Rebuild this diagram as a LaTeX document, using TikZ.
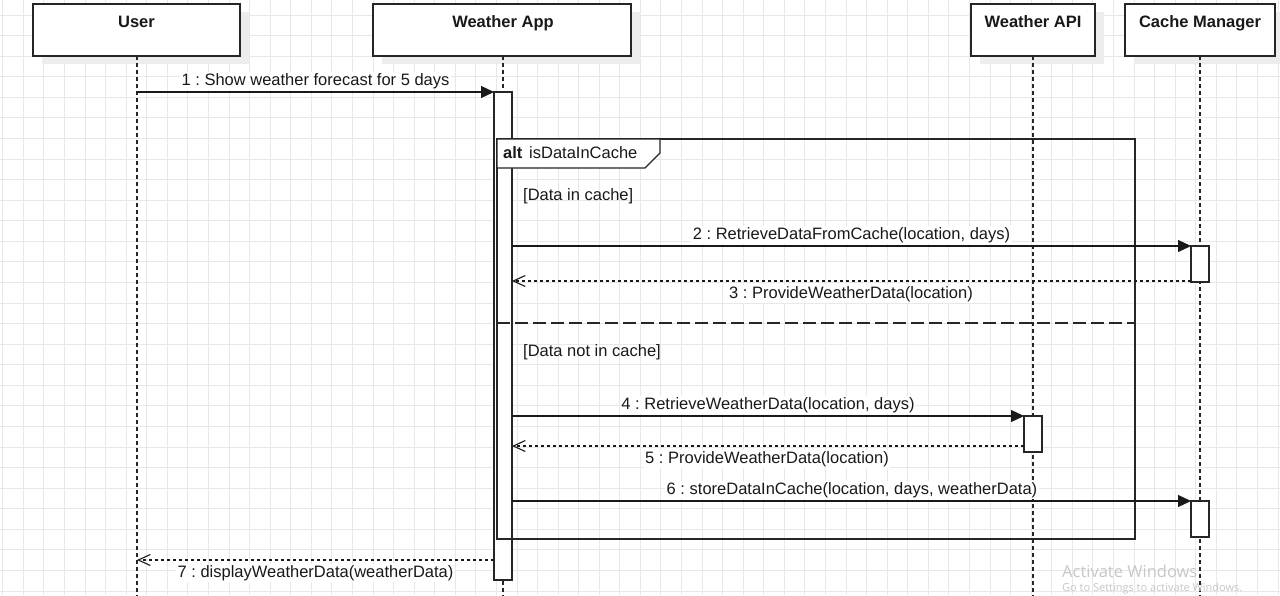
\documentclass[tikz,border=0pt]{standalone}
\usepackage{fontspec}
\setmainfont{Liberation Sans}
\newfontfamily\wmfont{Open Sans}
\usetikzlibrary{arrows.meta,calc,shadows}
\frenchspacing
\begin{document}
\begin{tikzpicture}[x=1pt,y=-1pt,
  gridline/.style={draw=black!9, line width=0.9pt},
  head/.style={draw=black!85, line width=1.4pt, fill=white, inner sep=0pt, outer sep=0pt,
    drop shadow={shadow xshift=9pt, shadow yshift=-8pt, fill=black!7, opacity=1}},
  title/.style={font=\fontsize{16.5}{19}\selectfont\bfseries, anchor=base, inner sep=0pt, text=black!90},
  lifeline/.style={draw=black!85, line width=1.3pt, dash pattern=on 4pt off 3pt},
  act/.style={draw=black!85, line width=1.3pt, fill=white, inner sep=0pt, outer sep=0pt, minimum width=18pt},
  sync/.style={draw=black!90, line width=1.2pt, -{Triangle[length=13pt,width=12pt]}},
  reply/.style={draw=black!90, line width=1.1pt, dash pattern=on 3pt off 3pt, -{Straight Barb[length=12pt,width=11pt,line width=1.1pt]}},
  msg/.style={font=\fontsize{16.5}{19}\selectfont\frenchspacing, anchor=base, inner sep=1.5pt, fill=white, text=black!90},
  txt/.style={font=\fontsize{16.5}{19}\selectfont\frenchspacing, anchor=base west, inner sep=0pt, text=black!90},
  frame/.style={draw=black!85, line width=1.3pt, inner sep=0pt, outer sep=0pt},
  sep/.style={draw=black!85, line width=1.3pt, dash pattern=on 13pt off 5pt},
  wm/.style={text=black!22, inner sep=0pt, anchor=base west}
]
\useasboundingbox (0,0) rectangle (1280,595);
\clip (0,0) rectangle (1280,595);
\fill[white] (0,0) rectangle (1280,595);
% grid
\foreach \i in {0,...,62} {\draw[gridline] (2.7+\i*20.57,0) -- (2.7+\i*20.57,595);}
\foreach \j in {0,...,29} {\draw[gridline] (0,15+\j*20.57-20.57) -- (1280,15+\j*20.57-20.57);}

% heads
\node[head, minimum width=207pt, minimum height=52pt] (user) at (136.5,30) {};
\node[head, minimum width=258pt, minimum height=52pt] (app) at (502,30) {};
\node[head, minimum width=124pt, minimum height=52pt] (api) at (1033,30) {};
\node[head, minimum width=150pt, minimum height=52pt] (cache) at (1200,30) {};
\node[title] (userT) at (136.5,27) {User};
\node[title] (appT) at (503,27) {Weather App};
\node[title] (apiT) at (1033,27) {Weather API};
\node[title] (cacheT) at (1200,27) {Cache Manager};

% lifelines
\coordinate (bottom) at (0,600);
\draw[lifeline] (user.south -| 137,0) -- (137,600);
\draw[lifeline] (app.south -| 503,0) -- (503,600);
\draw[lifeline] (api.south) -- (api.south |- bottom);
\draw[lifeline] (cache.south) -- (cache.south |- bottom);
\coordinate (userL) at (137,56);

% activations
\node[act, minimum height=488pt] (appAct) at (503,336) {};
\node[act, minimum height=36pt] (cache1) at (1200,264) {};
\node[act, minimum height=36pt] (api1) at (1033,434) {};
\node[act, minimum height=36pt] (cache2) at (1200,519) {};

% alt frame
\node[frame, minimum width=638pt, minimum height=400pt] (alt) at (816,339) {};
\filldraw[frame, fill=white] (alt.north west) -- ++(163,0) -- ++(0,14) -- ++(-15,15) -- ($(alt.north west)+(0,29)$) -- cycle;
\node[txt, font=\fontsize{16.5}{19}\selectfont\bfseries] (altK) at (503,158.5) {alt};
\node[txt] (altC) at (529,158.5) {isDataInCache};
\node[txt] (g1) at (523,200) {[Data in cache]};
\draw[sep] (alt.west |- 0,323) -- (alt.east |- 0,323);
\node[txt] (g2) at (523,356) {[Data not in cache]};

% messages
\draw[sync] (userL |- appAct.north) -- (appAct.north west);
\node[msg] (m1) at (315.5,85) {1 : Show weather forecast for 5 days};

\draw[sync] (appAct.east |- cache1.north) -- (cache1.north west);
\node[msg] (m2) at (851.5,239) {2 : RetrieveDataFromCache(location, days)};

\draw[reply] ($(cache1.south west)+(0,-1)$) -- (appAct.east |- 0,281);
\node[msg] (m3) at (851,298.5) {3 : ProvideWeatherData(location)};

\draw[sync] (appAct.east |- api1.north) -- (api1.north west);
\node[msg] (m4) at (768,409.5) {4 : RetrieveWeatherData(location, days)};

\draw[reply] ($(api1.south west)+(0,-6)$) -- (appAct.east |- 0,446);
\node[msg] (m5) at (767,463.5) {5 : ProvideWeatherData(location)};

\draw[sync] (appAct.east |- cache2.north) -- (cache2.north west);
\node[msg] (m6) at (852,494) {6 : storeDataInCache(location, days, weatherData)};

\draw[reply] ($(appAct.south west)+(0,-20)$) -- (userL |- 0,560);
\node[msg] (m7) at (315.5,577.5) {7 : displayWeatherData(weatherData)};

% watermark
\node[wm, font=\wmfont\fontsize{16.5}{18}\selectfont] (wm1) at (1062,577) {Activate Windows};
\node[wm, font=\wmfont\fontsize{11}{13}\selectfont] (wm2) at (1062,591) {Go to Settings to activate Windows.};
\end{tikzpicture}
\end{document}
